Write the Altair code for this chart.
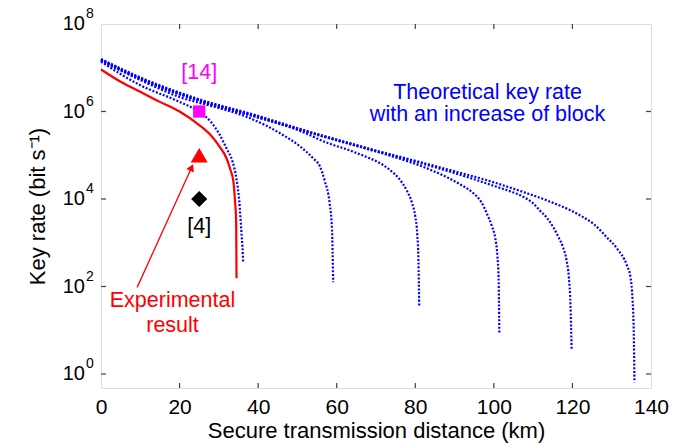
import altair as alt
import pandas as pd

FONT = "Liberation Sans"

# ---- curves: distance (km) and key rate as log10 values
red_km = [0, 5, 10, 15, 20, 25, 28, 30, 32, 33, 33.7, 34.1, 34.4, 34.5]
red_log = [6.96, 6.68, 6.45, 6.22, 6.0, 5.69, 5.45, 5.22, 4.92, 4.65, 4.4, 3.97, 3.5, 2.19]

b1_km = [0, 10, 20, 25, 28, 30, 32, 33.5, 34.5, 35.2, 35.7, 36.0, 36.2]
b1_log = [7.14, 6.6, 6.22, 5.99, 5.76, 5.5, 5.15, 4.85, 4.45, 3.95, 3.3, 2.9, 2.53]

b2_km = [0, 10, 20, 30, 37, 42, 46, 50.7, 54, 55.7, 57, 58.2, 58.8, 59.1]
b2_log = [7.16, 6.72, 6.33, 6.08, 5.88, 5.68, 5.48, 5.2, 4.93, 4.75, 4.4, 3.9, 3.3, 2.1]

b3_km = [0, 10, 25, 40, 50, 58, 63, 67.6, 71, 73.6, 76, 77.8, 79.2, 80.0, 80.5, 80.8, 81.0]
b3_log = [7.17, 6.74, 6.24, 5.86, 5.58, 5.27, 5.12, 4.96, 4.82, 4.66, 4.45, 4.2, 3.9, 3.6, 3.2, 2.6, 1.53]

b4_km = [0, 10, 25, 40, 50, 65, 75, 83, 88, 91.5, 94.8, 96.8, 98.2, 99.5, 100.3, 100.9, 101.2, 101.4]
b4_log = [7.18, 6.75, 6.25, 5.87, 5.6, 5.22, 4.95, 4.7, 4.5, 4.33, 4.13, 3.93, 3.67, 3.38, 3.13, 2.7, 2.2, 0.94]

b5_km = [0, 10, 25, 40, 50, 70, 86, 95, 100, 104, 107.5, 110, 111.7, 113.5, 115.1, 116.5, 117.6, 118.5, 119.1, 119.5, 119.8]
b5_log = [7.19, 6.76, 6.26, 5.88, 5.6, 5.09, 4.7, 4.45, 4.3, 4.18, 4.05, 3.9, 3.74, 3.57, 3.36, 3.12, 2.9, 2.6, 2.2, 1.6, 0.54]

b6_km = [0, 10, 25, 40, 50, 70, 86, 100, 107.5, 114, 120, 123, 125.5, 128.7, 131.5, 133.8, 134.8, 135.3, 135.6, 135.8]
b6_log = [7.2, 6.78, 6.28, 5.9, 5.62, 5.11, 4.73, 4.38, 4.16, 3.95, 3.72, 3.57, 3.42, 3.13, 2.85, 2.5, 2.2, 1.7, 1.0, -0.19]

# ---- single experimental / reference points
pts_km = [25, 25, 25]
pts_rate = [1e6, 1e5, 1e4]
pts_name = ["[14]", "experiment", "[4]"]

# ---- axis ticks
x_ticks = [0, 20, 40, 60, 80, 100, 120, 140]
y_exps = [0, 2, 4, 6, 8]
y_sup = ["0", "2", "4", "6", "8"]

# ---- annotations (km, log10 rate)
ann_text = ["[14]", "[4]", "Theoretical key rate", "with an increase of block", "Experimental", "result"]
ann_km = [25.0, 25.0, 98.4, 98.4, 18.2, 18.2]
ann_log = [6.88, 3.35, 6.42, 5.92, 1.66, 1.09]
ann_color = ["#ff00ff", "#000000", "#0000ff", "#0000ff", "#ff0000", "#ff0000"]

arrow_tail = (9.2, 1.98)
arrow_head = (23.06, 4.72)

W, H = 550, 364

blue = []
for i, (xs, ls) in enumerate([(b1_km, b1_log), (b2_km, b2_log), (b3_km, b3_log),
                              (b4_km, b4_log), (b5_km, b5_log), (b6_km, b6_log)]):
    for j, (x, l) in enumerate(zip(xs, ls)):
        blue.append({"curve": f"b{i}", "km": x, "rate": 10 ** l, "o": j})
blue_df = pd.DataFrame(blue)
red_df = pd.DataFrame({"km": red_km, "rate": [10 ** l for l in red_log], "o": range(len(red_km))})
pts_df = pd.DataFrame({"km": pts_km, "rate": pts_rate, "name": pts_name})
ann_df = pd.DataFrame({"km": ann_km, "rate": [10 ** l for l in ann_log], "t": ann_text, "c": ann_color})
xt_df = pd.DataFrame({"km": x_ticks[1:-1]})
yt_df = pd.DataFrame({"rate": [10.0 ** e for e in y_exps], "ten": ["10"] * len(y_exps), "sup": y_sup})
yt_inner = yt_df.iloc[:-1]
arrow_df = pd.DataFrame({"km": [arrow_tail[0]], "rate": [10 ** arrow_tail[1]],
                         "km2": [arrow_head[0]], "rate2": [10 ** arrow_head[1]]})
head_df = pd.DataFrame({"km": [arrow_head[0]], "rate": [10 ** arrow_head[1]]})

xscale = alt.Scale(domain=[0, 140], nice=False, zero=False)
yscale = alt.Scale(type="log", domain=[10 ** -0.32, 1e8], nice=False)
X = alt.X("km:Q", scale=xscale,
          axis=alt.Axis(values=x_ticks, ticks=False, domain=False, grid=False,
                        labelFontSize=21, labelFont=FONT, labelColor="#000", labelPadding=8,
                        labelFlush=False, labelOverlap=False,
                        title="Secure transmission distance (km)", titleFont=FONT,
                        titleFontSize=22, titleFontWeight="normal", titleColor="#000",
                        titlePadding=3))
Y = alt.Y("rate:Q", scale=yscale,
          axis=alt.Axis(labels=False, ticks=False, domain=False, grid=False,
                        title="Key rate (bit s⁻¹)", titleFont=FONT, titleFontSize=22,
                        titleFontWeight="normal", titleColor="#000",
                        titleX=-64, titleY=H / 2, titleAngle=270,
                        titleAlign="center", titleBaseline="middle"))

blue_lines = alt.Chart(blue_df).mark_line(
    color="#0000ff", strokeWidth=2.2, strokeDash=[2, 1.7], interpolate="monotone"
).encode(x=X, y=Y, detail="curve:N", order="o:Q")

red_line = alt.Chart(red_df).mark_line(
    color="#ff0000", strokeWidth=2.2, interpolate="monotone"
).encode(x=X, y=Y, order="o:Q")

sq = alt.Chart(pts_df.iloc[[0]]).mark_point(shape="square", filled=True, opacity=1,
                                            color="#ff00ff", size=150).encode(x=X, y=Y)
tri = alt.Chart(pts_df.iloc[[1]]).mark_point(shape="triangle-up", filled=True, opacity=1,
                                             color="#ff0000", size=290).encode(x=X, y=Y)
dia = alt.Chart(pts_df.iloc[[2]]).mark_point(shape="diamond", filled=True, opacity=1,
                                             color="#000000", size=260).encode(x=X, y=Y)

arrow = alt.Chart(arrow_df).mark_rule(color="#ff0000", strokeWidth=1.3).encode(
    x=X, y=Y, x2="km2:Q", y2="rate2:Q")
head = alt.Chart(head_df).mark_point(shape="triangle-up", filled=True, opacity=1,
                                     color="#ff0000", size=70, angle=24.5).encode(x=X, y=Y)

ann = alt.Chart(ann_df).mark_text(font=FONT, fontSize=21.5, align="center", baseline="middle").encode(
    x=X, y=Y, text="t:N", color=alt.Color("c:N", scale=None))

tick_style = dict(color="#404040", strokeWidth=1.2)
xt_bottom = alt.Chart(xt_df).mark_rule(**tick_style).encode(x=X, y=alt.value(H), y2=alt.value(H - 5))
xt_top = alt.Chart(xt_df).mark_rule(**tick_style).encode(x=X, y=alt.value(0), y2=alt.value(5))
yt_left = alt.Chart(yt_inner).mark_rule(**tick_style).encode(y=Y, x=alt.value(0), x2=alt.value(5))
yt_right = alt.Chart(yt_inner).mark_rule(**tick_style).encode(y=Y, x=alt.value(W), x2=alt.value(W - 5))

ylab_ten = alt.Chart(yt_df).mark_text(font=FONT, fontSize=20, align="right", baseline="middle",
                                      color="#000").encode(y=Y, x=alt.value(-16), text="ten:N")
ylab_sup = alt.Chart(yt_df).mark_text(font=FONT, fontSize=14, align="left", baseline="middle",
                                      dy=-10, color="#000").encode(y=Y, x=alt.value(-15), text="sup:N")

chart = alt.layer(
    blue_lines, red_line, sq, tri, dia, arrow, head, ann,
    xt_bottom, xt_top, yt_left, yt_right, ylab_ten, ylab_sup
).properties(
    width=W, height=H,
    autosize=alt.AutoSizeParams(type="none"),
    padding={"left": 101, "top": 24, "right": 31, "bottom": 57},
).configure_view(stroke="#404040", strokeWidth=1.5).configure(background="white")

chart.save("out.html", embed_options={"renderer": "svg", "actions": False})
